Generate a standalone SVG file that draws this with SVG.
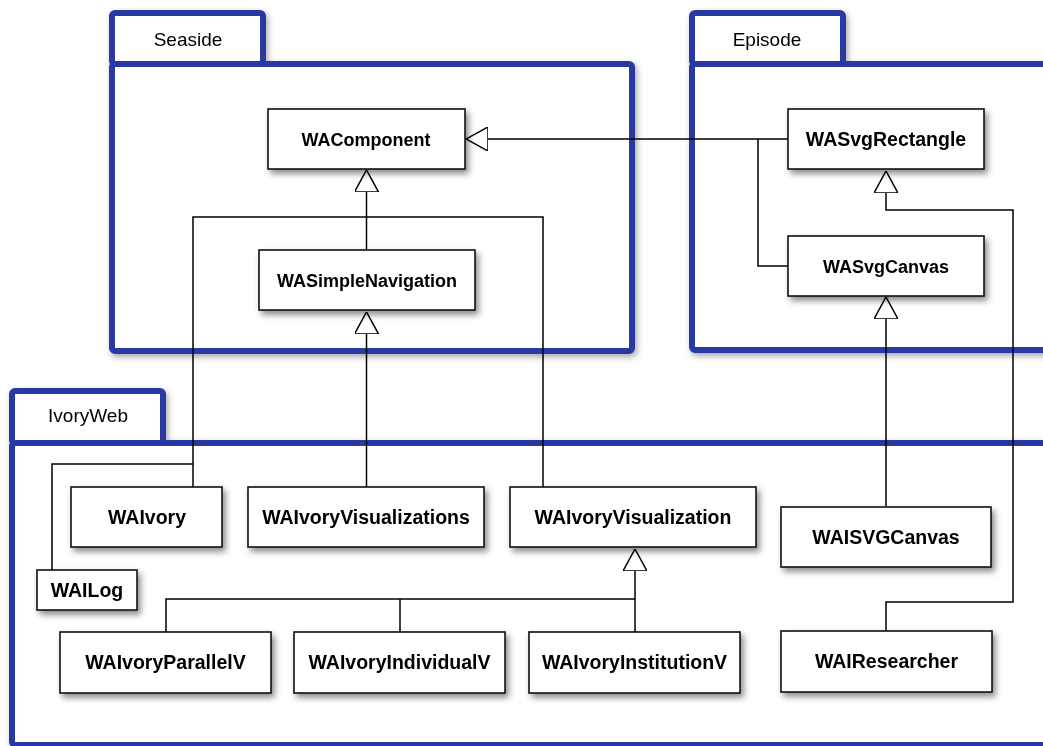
<svg xmlns="http://www.w3.org/2000/svg" width="1043" height="746" viewBox="0 0 1043 746">
<defs>
<filter id="sh" x="-20%" y="-20%" width="150%" height="160%">
<feDropShadow dx="3" dy="4" stdDeviation="3" flood-color="#000" flood-opacity="0.45"/>
</filter>
<filter id="psh" x="-10%" y="-10%" width="130%" height="130%">
<feDropShadow dx="2" dy="3" stdDeviation="3" flood-color="#000" flood-opacity="0.35"/>
</filter>
<marker id="tri" viewBox="0 0 22 24" refX="22" refY="12" markerWidth="22" markerHeight="24" markerUnits="userSpaceOnUse" orient="auto">
<path d="M0,0 L22,12 L0,24 Z" fill="#fff" stroke="#000" stroke-width="1.5"/>
</marker>
</defs>
<style>
.pkg{fill:#fff;stroke:#2a39a3;stroke-width:6;stroke-linejoin:round}
.tab{fill:#fff;stroke:#2a39a3;stroke-width:6;stroke-linejoin:round}
.pl{font-family:"Liberation Sans",Arial,sans-serif;font-size:19px;fill:#000;text-anchor:middle}
.box{fill:#fff;stroke:#111;stroke-width:1.6}
.nl{font-family:"Liberation Sans",Arial,sans-serif;font-weight:bold;font-size:19.5px;fill:#000;text-anchor:middle}
.ns{font-size:18px}
.c{fill:none;stroke:#000;stroke-width:1.5}
</style>
<rect width="1043" height="746" fill="#fff"/>
<g id="pkg-seaside" filter="url(#psh)">
<rect class="tab" x="112" y="13" width="151" height="51" rx="3"/>
<rect class="pkg" x="112" y="64" width="520" height="287" rx="3"/>
<text class="pl" x="188" y="46">Seaside</text>
</g>
<g id="pkg-episode" filter="url(#psh)">
<rect class="tab" x="692" y="13" width="151" height="51" rx="3"/>
<rect class="pkg" x="692" y="64" width="360" height="286" rx="3"/>
<text class="pl" x="767" y="46">Episode</text>
</g>
<g id="pkg-ivoryweb" filter="url(#psh)">
<rect class="tab" x="12" y="391" width="151" height="52" rx="3"/>
<rect class="pkg" x="12" y="443" width="1040" height="302" rx="3"/>
<text class="pl" x="88" y="422">IvoryWeb</text>
</g>
<g id="connectors">
<path class="c" d="M788,139 H466" marker-end="url(#tri)"/>
<path class="c" d="M788,266 H758 V139"/>
<path class="c" d="M366.5,250 V170" marker-end="url(#tri)"/>
<path class="c" d="M193,487 V217 H543 V487"/>
<path class="c" d="M52,570 V464 H193"/>
<path class="c" d="M366.5,487 V312" marker-end="url(#tri)"/>
<path class="c" d="M886,506 V297" marker-end="url(#tri)"/>
<path class="c" d="M886,631 V602 H1013 V210 H886 V171" marker-end="url(#tri)"/>
<path class="c" d="M166,632 V599 H635"/>
<path class="c" d="M400,632 V599"/>
<path class="c" d="M635,632 V549" marker-end="url(#tri)"/>
</g>
<g id="WAComponent" filter="url(#sh)">
<rect class="box" x="268" y="109" width="197" height="60"/>
<text class="nl ns" x="366" y="145.5">WAComponent</text>
</g>
<g id="WASimpleNavigation" filter="url(#sh)">
<rect class="box" x="259" y="250" width="216" height="60"/>
<text class="nl ns" x="367" y="286.5">WASimpleNavigation</text>
</g>
<g id="WASvgRectangle" filter="url(#sh)">
<rect class="box" x="788" y="109" width="196" height="60"/>
<text class="nl" x="886" y="146">WASvgRectangle</text>
</g>
<g id="WASvgCanvas" filter="url(#sh)">
<rect class="box" x="788" y="236" width="196" height="60"/>
<text class="nl ns" x="886" y="272.5">WASvgCanvas</text>
</g>
<g id="WAIvory" filter="url(#sh)">
<rect class="box" x="71" y="487" width="151" height="60"/>
<text class="nl" x="147" y="524">WAIvory</text>
</g>
<g id="WAIvoryVisualizations" filter="url(#sh)">
<rect class="box" x="248" y="487" width="236" height="60"/>
<text class="nl" x="366" y="524">WAIvoryVisualizations</text>
</g>
<g id="WAIvoryVisualization" filter="url(#sh)">
<rect class="box" x="510" y="487" width="246" height="60"/>
<text class="nl" x="633" y="524">WAIvoryVisualization</text>
</g>
<g id="WAISVGCanvas" filter="url(#sh)">
<rect class="box" x="781" y="507" width="210" height="60"/>
<text class="nl" x="886" y="544">WAISVGCanvas</text>
</g>
<g id="WAILog" filter="url(#sh)">
<rect class="box" x="37" y="570" width="100" height="40"/>
<text class="nl" x="87" y="597">WAILog</text>
</g>
<g id="WAIvoryParallelV" filter="url(#sh)">
<rect class="box" x="60" y="632" width="211" height="61"/>
<text class="nl" x="165.5" y="669">WAIvoryParallelV</text>
</g>
<g id="WAIvoryIndividualV" filter="url(#sh)">
<rect class="box" x="294" y="632" width="211" height="61"/>
<text class="nl" x="399.5" y="669">WAIvoryIndividualV</text>
</g>
<g id="WAIvoryInstitutionV" filter="url(#sh)">
<rect class="box" x="529" y="632" width="211" height="61"/>
<text class="nl" x="634.5" y="669">WAIvoryInstitutionV</text>
</g>
<g id="WAIResearcher" filter="url(#sh)">
<rect class="box" x="781" y="631" width="211" height="61"/>
<text class="nl" x="886.5" y="668">WAIResearcher</text>
</g>
</svg>
